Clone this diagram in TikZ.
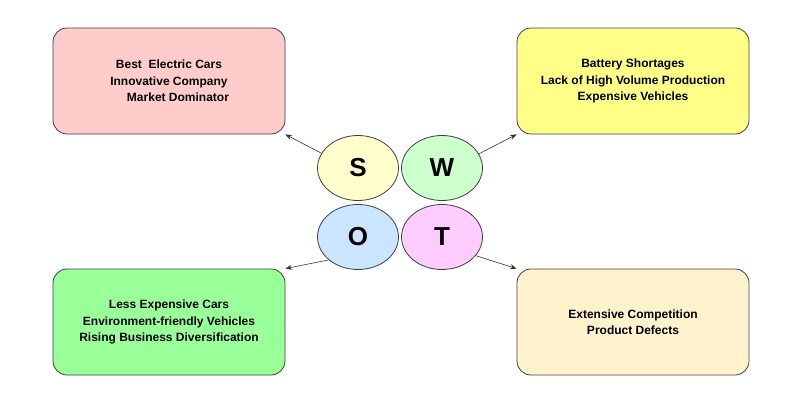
\documentclass[tikz,border=0pt]{standalone}
\usepackage{fontspec}
\setmainfont{Liberation Sans}
\usetikzlibrary{shapes.geometric,arrows.meta}
\definecolor{strcol}{HTML}{FFCCCC}
\definecolor{wkcol}{HTML}{FFFF88}
\definecolor{opcol}{HTML}{99FF99}
\definecolor{thcol}{HTML}{FFF2CC}
\definecolor{scol}{HTML}{FFFFCC}
\definecolor{wcol}{HTML}{CCFFCC}
\definecolor{ocol}{HTML}{CCE5FF}
\definecolor{tcol}{HTML}{FFCCFF}
\definecolor{edge}{HTML}{404040}
\tikzset{
  box/.style={draw=edge, line width=0.8pt, rounded corners=14pt, minimum width=232pt,
    minimum height=106pt, align=center, font=\fontsize{12}{16.5}\selectfont\bfseries},
  letter/.style={draw=edge, line width=0.8pt, ellipse, minimum width=81pt, minimum height=65pt,
    inner sep=0pt, font=\fontsize{26}{26}\selectfont\bfseries},
  link/.style={->, >={Stealth[length=6.5pt,width=5pt]}, line width=0.6pt, draw=black!80}
}
\begin{document}
\begin{tikzpicture}[x=1pt,y=-1pt]
\useasboundingbox (0,0) rectangle (800,407);
\node [box, fill=strcol] (str) at (169,81) {Best\ \ Electric Cars\\Innovative Company\\\hspace{18pt}Market Dominator};
\node [box, fill=wkcol] (wk) at (633,81) {Battery Shortages\\Lack of High Volume Production\\Expensive Vehicles};
\node [box, fill=opcol] (op) at (169,322) {Less Expensive Cars\\Environment-friendly Vehicles\\Rising Business Diversification};
\node [box, fill=thcol] (th) at (633,322) {Extensive Competition\\Product Defects};
\node [letter, fill=scol] (s) at (358,168) {S};
\node [letter, fill=wcol] (w) at (442,168) {W};
\node [letter, fill=ocol] (o) at (358,237) {O};
\node [letter, fill=tcol] (t) at (442,237) {T};
\draw [link] (s.158) -- (str.south east);
\draw [link] (w.21) -- (wk.south west);
\draw [link] (o.218) -- (op.north east);
\draw [link] (t.331) -- (th.north west);
\end{tikzpicture}
\end{document}
